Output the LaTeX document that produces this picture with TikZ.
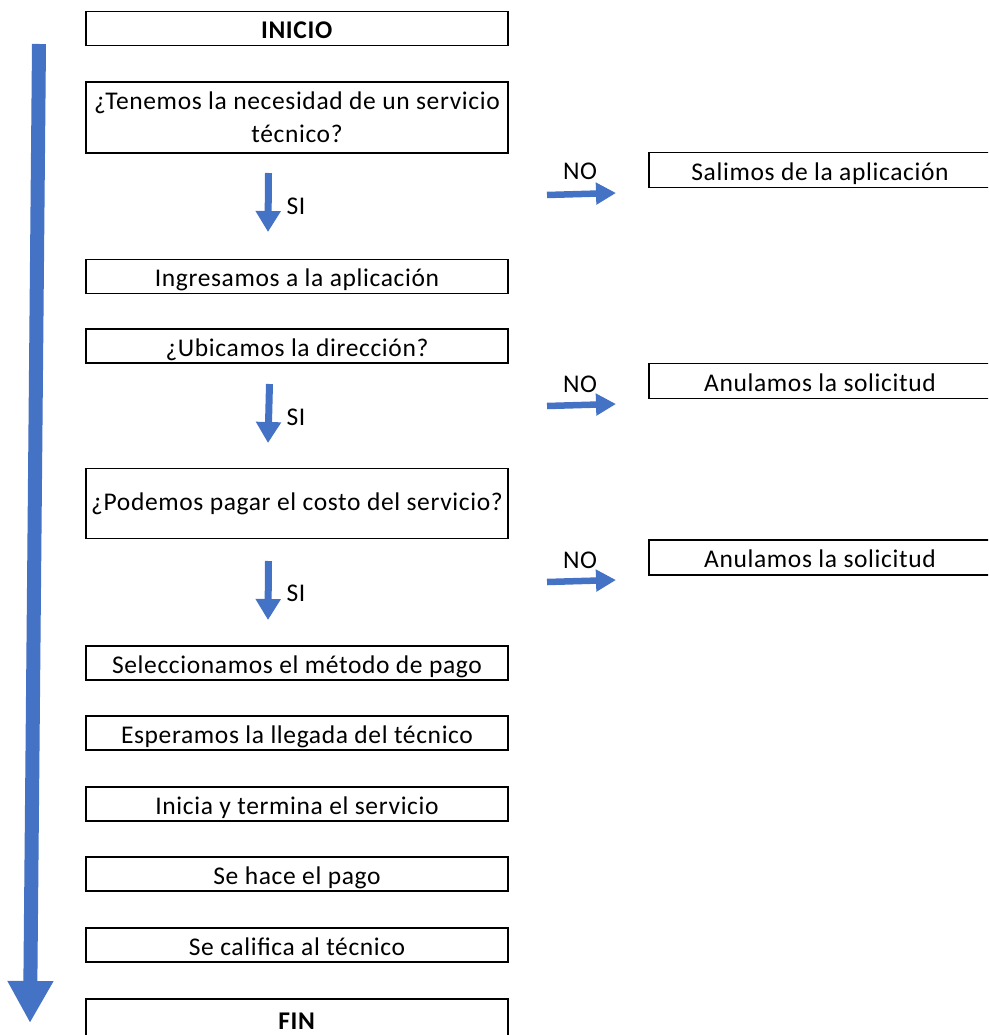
\documentclass[tikz,border=0pt]{standalone}
\usepackage{fontspec}
\setmainfont{Carlito}[LetterSpace=2.5]
\usetikzlibrary{arrows.meta}
\definecolor{flowblue}{HTML}{4472C4}
\begin{document}
\begin{tikzpicture}[x=1pt,y=-1pt,
  boxtext/.style={font=\fontsize{25.5}{33}\selectfont, text=black},
  framed/.style={boxtext, draw=black, line width=1.4pt, inner sep=0pt, align=center},
  stepbox/.style={framed, minimum width=422pt, minimum height=34pt,
    text height=24pt, text depth=4pt},
  tallbox/.style={framed, minimum width=422pt, minimum height=71pt},
  sidebox/.style={framed, minimum width=342pt, minimum height=35pt,
    text height=24pt, text depth=4pt},
  answer/.style={boxtext, inner sep=0pt},
  mainarrow/.style={draw=flowblue, line width=14pt,
    -{Triangle[width=43pt,length=42pt,fill=flowblue]}},
  yesarrow/.style={draw=flowblue, line width=7pt,
    -{Triangle[width=24pt,length=21pt,fill=flowblue]}},
  noarrow/.style={draw=flowblue, line width=6.5pt,
    -{Triangle[width=21pt,length=20pt,fill=flowblue]}}]
\useasboundingbox (0,0) rectangle (988,1035);
\clip (0,0) rectangle (988,1035);

% main sequence of steps
\node[stepbox] (inicio) at (297,28.5) {\textbf{INICIO}};
\node[tallbox] (necesidad) at (297,117.5) {\raisebox{-1.5pt}{¿Tenemos la necesidad de un servicio}\\\raisebox{-1.5pt}{técnico?}};
\node[stepbox] (ingreso) at (297,276.5) {Ingresamos a la aplicación};
\node[stepbox] (ubicacion) at (297,346) {¿Ubicamos la dirección?};
\node[tallbox, minimum height=70pt] (costo) at (297,503.5) {\raisebox{-2pt}{¿Podemos pagar el costo del servicio?}};
\node[stepbox] (metodo) at (297,663) {Seleccionamos el método de pago};
\node[stepbox] (espera) at (297,733) {Esperamos la llegada del técnico};
\node[stepbox] (servicio) at (297,804) {Inicia y termina el servicio};
\node[stepbox] (pago) at (297,874) {Se hace el pago};
\node[stepbox] (califica) at (297,945) {Se califica al técnico};
\node[stepbox, minimum height=40pt] (fin) at (297,1019) {\textbf{FIN}};

% outcomes of a negative answer
\node[sidebox] (salir) at (820,170) {Salimos de la aplicación};
\node[sidebox] (anular1) at (820,381) {Anulamos la solicitud};
\node[sidebox] (anular2) at (820,557.5) {Anulamos la solicitud};

% overall flow arrow
\coordinate (flow-start) at (39,44);
\coordinate (flow-end) at (30,1023);
\draw[mainarrow] (flow-start) -- (flow-end);

% "SI" arrows
\coordinate (si1-a) at (268.5,173);
\coordinate (si1-b) at (268,232);
\coordinate (si2-a) at (269.5,384);
\coordinate (si2-b) at (268,443);
\coordinate (si3-a) at (268.5,561);
\coordinate (si3-b) at (268,620);
\draw[yesarrow] (si1-a) -- (si1-b);
\draw[yesarrow] (si2-a) -- (si2-b);
\draw[yesarrow] (si3-a) -- (si3-b);
\node[answer] (si1) at (296,206) {SI};
\node[answer] (si2) at (296,417) {SI};
\node[answer] (si3) at (296,593) {SI};

% "NO" arrows
\coordinate (no1-a) at (547,195);
\coordinate (no1-b) at (616,193);
\coordinate (no2-a) at (547,406);
\coordinate (no2-b) at (616,404);
\coordinate (no3-a) at (547,582);
\coordinate (no3-b) at (616,580);
\draw[noarrow] (no1-a) -- (no1-b);
\draw[noarrow] (no2-a) -- (no2-b);
\draw[noarrow] (no3-a) -- (no3-b);
\node[answer] (no1) at (580,171) {NO};
\node[answer] (no2) at (580,384) {NO};
\node[answer] (no3) at (580,560) {NO};
\end{tikzpicture}
\end{document}
